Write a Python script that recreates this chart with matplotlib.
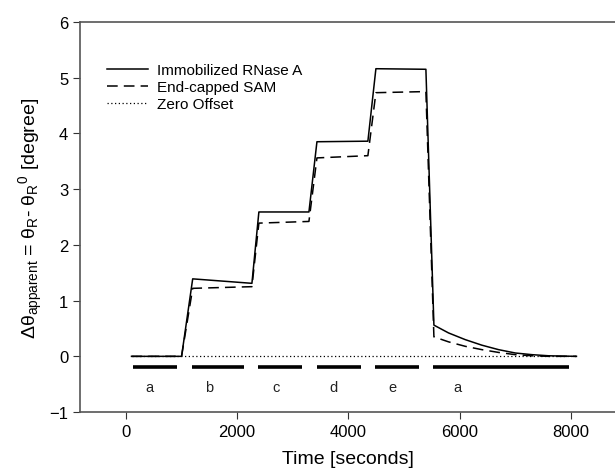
import matplotlib
matplotlib.use("Agg")
import matplotlib.pyplot as plt

plt.rcParams['font.family'] = ['Liberation Sans', 'DejaVu Sans']
plt.rcParams['mathtext.fontset'] = 'custom'
plt.rcParams['mathtext.rm'] = 'Liberation Sans'
plt.rcParams['mathtext.it'] = 'Liberation Sans'

# Immobilized RNase A (solid)
t_rnase = [100, 1000, 1200, 2265, 2390, 3290, 3434, 4350, 4494, 5393, 5537,
           5800, 6100, 6400, 6700, 7000, 7300, 7600, 8100]
y_rnase = [0.0, 0.0, 1.39, 1.31, 2.59, 2.59, 3.85, 3.86, 5.16, 5.15, 0.56,
           0.42, 0.30, 0.20, 0.12, 0.06, 0.03, 0.01, 0.0]

# End-capped SAM (dashed)
t_sam = [100, 1000, 1200, 2265, 2390, 3290, 3434, 4350, 4494, 5393, 5537,
         5800, 6100, 6400, 6700, 7000, 7300, 7600, 8100]
y_sam = [0.0, 0.0, 1.22, 1.25, 2.39, 2.42, 3.56, 3.60, 4.73, 4.75, 0.35,
         0.26, 0.18, 0.12, 0.07, 0.03, 0.01, 0.0, 0.0]

# Zero offset
t_zero = [100, 8100]
y_zero = [0.0, 0.0]

# solution injection periods
bar_start = [126, 1187, 2373, 3434, 4476, 5519]
bar_end = [917, 2121, 3164, 4225, 5267, 7964]
bar_labels = ['a', 'b', 'c', 'd', 'e', 'a']
label_x = [431, 1492, 2697, 3740, 4800, 5968]

fig = plt.figure(figsize=(6.15, 4.77), dpi=100)
ax = fig.add_axes([0.130, 0.134, 0.870, 0.818])

ax.plot(t_rnase, y_rnase, color='black', lw=1.1, label='Immobilized RNase A')
ax.plot(t_sam, y_sam, color='black', lw=1.1, ls=(0, (7, 4)), label='End-capped SAM')
ax.plot(t_zero, y_zero, color='black', lw=0.9, ls=(0, (1, 2)), label='Zero Offset')

for s, e in zip(bar_start, bar_end):
    ax.plot([s, e], [-0.2, -0.2], color='black', lw=2.6, solid_capstyle='butt')
for x, lab in zip(label_x, bar_labels):
    ax.text(x, -0.55, lab, ha='center', va='center', fontsize=10.5, color='#222222')

ax.set_xlim(-827, 8793)
ax.set_ylim(-1, 6)
ax.set_xticks([0, 2000, 4000, 6000, 8000])
ax.set_yticks([-1, 0, 1, 2, 3, 4, 5, 6])
ax.tick_params(labelsize=12, direction='out', length=5, colors='#333333',
               labelcolor='black')
for sp in ['left', 'bottom', 'top']:
    ax.spines[sp].set_color('#555555')
    ax.spines[sp].set_linewidth(1.2)
ax.spines['right'].set_visible(False)

ax.set_xlabel('Time [seconds]', fontsize=14, labelpad=8)
ax.set_ylabel(r'Δθ$_{\mathrm{apparent}}$ = θ$_{\mathrm{R}}$- θ$_{\mathrm{R}}$$^{\mathrm{0}}$ [degree]',
              fontsize=14, labelpad=3)

ax.legend(loc='upper left', bbox_to_anchor=(0.025, 0.93), frameon=False,
          fontsize=11, handlelength=2.7, labelspacing=0.2, handletextpad=0.6)

fig.savefig('out.png', dpi=100)
